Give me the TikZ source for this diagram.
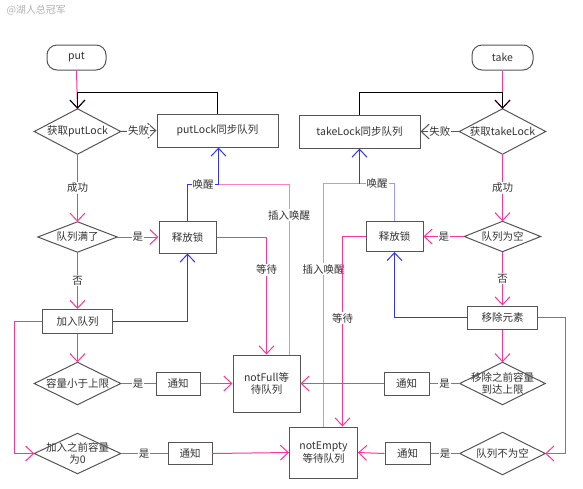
\documentclass[tikz,border=0pt]{standalone}
\usepackage{fontspec}
\setmainfont{Noto Sans CJK SC}
\usetikzlibrary{arrows.meta,calc}
\definecolor{pk}{HTML}{FF3399}
\definecolor{lpk}{HTML}{FF80C0}
\definecolor{bl}{HTML}{3333FF}
\definecolor{lbl}{HTML}{9999FF}
\definecolor{tx}{HTML}{333333}
\definecolor{bd}{HTML}{555555}
\begin{document}
\begin{tikzpicture}[x=1pt,y=-1pt,
  font=\fontsize{10.5}{12.5}\selectfont, text=tx,
  box/.style 2 args={draw=bd,line width=1pt,minimum width=#1,minimum height=#2,inner sep=0pt,align=center},
  term/.style 2 args={box={#1}{#2},rounded corners=10pt},
  dia/.style 2 args={minimum width=#1,minimum height=#2,inner sep=0pt,align=center},
  con/.style={line width=1pt,-{Straight Barb[length=8pt,width=15pt]}},
  plain/.style={line width=1pt},
  lab/.style={fill=white,inner sep=1pt,text=tx}]
\fill[white] (0,0) rectangle (583,488);
\useasboundingbox (0,0) rectangle (583,488);

% watermark
\node[anchor=west,text=black!30,font=\fontsize{10}{12}\selectfont] (wm) at (3,10) {@湖人总冠军};

% nodes
\node[term={59pt}{25pt}] (put) at (76.5,57.5) {put};
\node[term={61pt}{25pt}] (take) at (502.5,57.5) {take};
\node[dia={86pt}{45pt}] (d1) at (77.5,131.5) {获取putLock};
\node[box={121pt}{33pt}] (b1) at (217.5,130.5) {putLock同步队列};
\node[dia={86pt}{45pt}] (d2) at (502.5,131.5) {获取takeLock};
\node[box={121pt}{33pt}] (b2) at (359.5,131.5) {takeLock同步队列};
\node[dia={79pt}{30pt}] (d3) at (77.5,237) {队列满了};
\node[box={57pt}{32pt}] (r1) at (187.5,237) {释放锁};
\node[dia={76pt}{30pt}] (d4) at (502.5,236.5) {队列为空};
\node[box={57pt}{30pt}] (r2) at (394.5,236.5) {释放锁};
\node[box={70pt}{24pt}] (a1) at (77.5,321.5) {加入队列};
\node[box={70pt}{23pt}] (m1) at (502.5,317.5) {移除元素};
\node[dia={86pt}{42pt}] (d5) at (77.5,383.5) {容量小于上限};
\node[box={44pt}{23pt}] (n1) at (178,383.5) {通知};
\node[box={67pt}{57pt}] (nf) at (266.5,383.5) {notFull等\\待队列};
\node[dia={85pt}{42pt}] (d6) at (502.5,383.5) {移除之前容量\\到达上限};
\node[box={45pt}{23pt}] (n2) at (406.5,383.5) {通知};
\node[dia={86pt}{40pt}] (d7) at (77.5,453.5) {加入之前容量\\为0};
\node[box={44pt}{22pt}] (n3) at (190,453.5) {通知};
\node[box={68pt}{51pt}] (ne) at (323.5,452.5) {notEmpty\\等待队列};
\node[dia={85pt}{42pt}] (d8) at (502.5,453.5) {队列不为空};
\node[box={45pt}{22pt}] (n4) at (407.5,453.5) {通知};

\foreach \n in {d1,d2,d3,d4,d5,d6,d7,d8}
  \draw[draw=bd,line width=1pt] (\n.north) -- (\n.east) -- (\n.south) -- (\n.west) -- cycle;

\coordinate (j1) at (77.5,92.5);
\coordinate (j2) at (218.5,184.5);
\coordinate (j3) at (14.5,321.5);
\coordinate (j4) at (502.5,92.5);
\coordinate (j5) at (359.5,183.5);
\coordinate (j6) at (565.5,317.5);

% left column
\draw[con,draw=pk] (put.south) -- (d1.north);
\draw[con,draw=black] (b1.north) |- (j1) -- (d1.north);
\draw[con,draw=bd] (d1.east) -- node[lab]{失败} (b1.west);
\draw[con,draw=pk] (d1.south) -- node[lab]{成功} (d3.north);
\draw[con,draw=pk] (d3.east) -- node[lab]{是} (r1.west);
\draw[con,draw=pk] (d3.south) -- node[lab]{否} (a1.north);
\draw[plain,draw=lpk] ([xshift=22.5pt]nf.north) |- node[lab,pos=0.41]{插入唤醒} (j2);
\draw[con,draw=pk] (r1.east) -| node[lab,pos=0.64]{等待} (nf.north);
\draw[plain,draw=bl] (r1.north) |- node[lab,pos=0.75]{唤醒} (j2);
\draw[con,draw=bl] (j2) -- (j2 |- b1.south);
\draw[con,draw=bl] (a1.east) -| (r1.south);
\draw[con,draw=pk] (a1.south) -- (d5.north);
\draw[con,draw=pk] (a1.west) -- (j3) |- (d7.west);
\draw[plain,draw=pk] (d5.east) -- node[lab]{是} (n1.west);
\draw[con,draw=pk] (n1.east) -- (nf.west);
\draw[plain,draw=pk] (d7.east) -- node[lab]{是} (n3.west);
\draw[con,draw=pk] (n3.east) -- (ne.west);

% right column
\draw[con,draw=pk] (take.south) -- (d2.north);
\draw[con,draw=black] (b2.north) |- (j4) -- (d2.north);
\draw[con,draw=bd] (d2.west) -- node[lab]{失败} (b2.east);
\draw[con,draw=pk] (d2.south) -- node[lab]{成功} (d4.north);
\draw[con,draw=pk] (d4.west) -- node[lab]{是} (r2.east);
\draw[con,draw=pk] (d4.south) -- node[lab]{否} (m1.north);
\draw[plain,draw=lpk] (ne.north) |- node[lab,pos=0.324]{插入唤醒} (j5);
\draw[con,draw=pk] (r2.west) -| node[lab,pos=0.715]{等待} ([xshift=19pt]ne.north);
\draw[plain,draw=lbl] (r2.north) |- node[lab,pos=0.75]{唤醒} (j5);
\draw[con,draw=bl] (j5) -- (b2.south);
\draw[con,draw=bl] (m1.west) -| (r2.south);
\draw[con,draw=pk] (m1.east) -- (j6) |- (d8.east);
\draw[con,draw=pk] (m1.south) -- (d6.north);
\draw[plain,draw=pk] (d6.west) -- node[lab]{是} (n2.east);
\draw[con,draw=pk] (n2.west) -- (nf.east);
\draw[plain,draw=pk] (d8.west) -- node[lab]{是} (n4.east);
\draw[con,draw=pk] (n4.west) -- (ne.east);
\end{tikzpicture}
\end{document}
